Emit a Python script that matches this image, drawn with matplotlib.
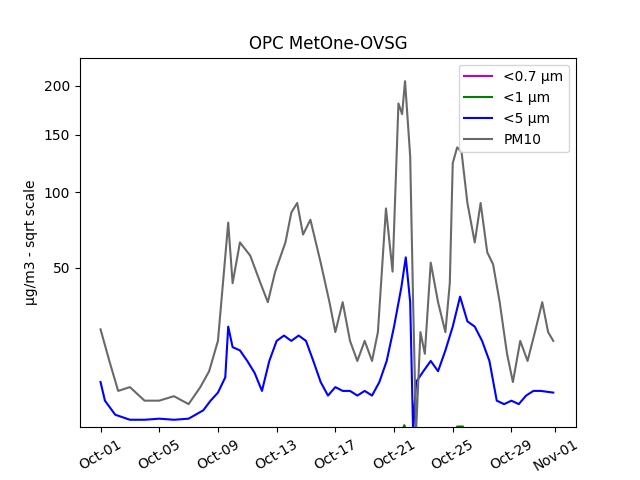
import numpy as np
import pandas as pd
import matplotlib
matplotlib.use('Agg')
import matplotlib.pyplot as plt
import matplotlib.dates as mdates

start = pd.Timestamp('2023-10-01')

# day offsets from Oct-01 and values (ug/m3)
pm10_days = [0, 0.6, 1.2, 2, 3, 4, 5, 6, 6.8, 7.4, 8, 8.7, 9, 9.5, 10.2, 10.9, 11.4, 11.9,
             12.6, 13, 13.4, 13.8, 14.3, 15, 15.6, 16, 16.5, 17, 17.5, 18, 18.5, 18.9, 19.45,
             19.9, 20.3, 20.55, 20.75, 21.1, 21.3, 21.5, 21.8, 22.1, 22.5, 23, 23.5, 23.8, 24,
             24.3, 24.6, 25, 25.5, 25.9, 26.35, 26.75, 27.2, 27.7, 28.1, 28.6, 29.1, 29.6, 30.1,
             30.5, 30.85]
pm10_vals = [22, 12, 5.3, 6, 3.7, 3.7, 4.4, 3.2, 6, 9.4, 18, 78, 42, 65, 57, 42, 33, 48,
             65, 85, 92, 70, 80, 53, 33, 21, 33, 18, 12, 18, 12, 21, 88,
             48, 181, 170, 205, 130, 33, 0.5, 21, 14, 53, 33, 21, 42, 124,
             138, 134, 92, 65, 92, 59, 52, 33, 14, 7, 18, 12, 21, 33,
             21, 18]

pm5_days = [0, 0.3, 1, 2, 3, 4, 5, 6, 7, 7.5, 8, 8.5, 8.7, 9, 9.5, 10, 10.5, 11, 11.5, 12,
            12.5, 13, 13.5, 14, 14.5, 15, 15.5, 16, 16.5, 17, 17.5, 18, 18.5, 19, 19.5, 20,
            20.5, 20.8, 21.1, 21.3, 21.5, 22, 22.5, 23, 23.5, 24, 24.5, 25, 25.5, 26, 26.5, 27,
            27.5, 28, 28.5, 29, 29.5, 30, 30.85]
pm5_vals = [7, 3.7, 1.9, 1.4, 1.4, 1.5, 1.4, 1.5, 2.4, 3.7, 5, 8, 23, 16, 15, 12, 9, 5.3,
            12, 18, 19.8, 18, 19.8, 18, 12, 7, 4.5, 6, 5.3, 5.3, 4.5, 5.3, 4.5, 7, 12, 23,
            40, 56, 33, 0.5, 7, 9.4, 12, 9.4, 15, 23, 35.5, 25, 23, 18, 12, 3.7,
            3.2, 3.7, 3.2, 4.5, 5.3, 5.3, 5]

pm1_days = [0, 20.4, 20.7, 21.0, 24.1, 24.3, 24.7, 24.9, 30.85]
pm1_vals = [0.3, 0.3, 0.95, 0.3, 0.3, 0.85, 0.85, 0.3, 0.3]

pm07_days = [0, 30.85]
pm07_vals = [0.2, 0.2]


def to_dates(days):
    return [start + pd.Timedelta(days=d) for d in days]


fig, ax = plt.subplots(figsize=(6.4, 4.8), dpi=100)
ax.set_yscale('function', functions=(lambda v: np.sqrt(np.clip(v, 0, None)), lambda v: v ** 2))

ax.plot(to_dates(pm07_days), pm07_vals, color='m', label='<0.7 µm')
ax.plot(to_dates(pm1_days), pm1_vals, color='green', label='<1 µm')
ax.plot(to_dates(pm5_days), pm5_vals, color='blue', label='<5 µm')
ax.plot(to_dates(pm10_days), pm10_vals, color='dimgray', label='PM10')

ax.set_ylim(0.8, 232)
ax.set_yticks([50, 100, 150, 200])
ax.set_xlim(start - pd.Timedelta(days=1.4), start + pd.Timedelta(days=32.4))
ax.xaxis.set_major_locator(mdates.DayLocator(bymonthday=[1, 5, 9, 13, 17, 21, 25, 29]))
ax.xaxis.set_major_formatter(mdates.DateFormatter('%b-%d'))
plt.setp(ax.get_xticklabels(), rotation=30)
ax.set_ylabel('µg/m3 - sqrt scale')
ax.set_title('OPC MetOne-OVSG')
ax.legend(loc='upper right')

plt.savefig('out.png')
